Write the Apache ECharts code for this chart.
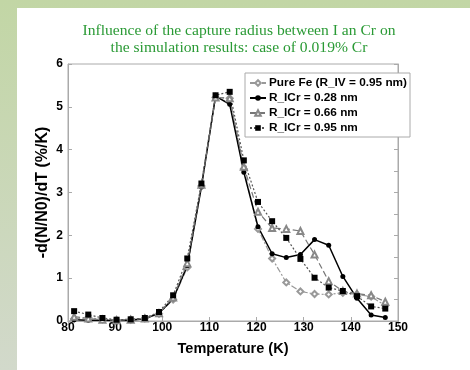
<!DOCTYPE html>
<html>
<head>
<meta charset="utf-8">
<script src="https://cdn.jsdelivr.net/npm/echarts@6/dist/echarts.min.js"></script>
<style>
    body { margin: 0; }
    .page {
        position: relative; width: 470px; height: 370px;
        background: linear-gradient(to bottom, #c2d6a5, #d2d9cb);
    }
    .panel { position: absolute; left: 17px; top: 8px; width: 453px; height: 362px; background: #fff; }
    #main { position: absolute; left: 0; top: 0; width: 470px; height: 370px; }
</style>
</head>
<body>
<div class="page">
    <div class="panel"></div>
    <div id="main"></div>
</div>
<script>
// temperatures (K)
const temps = [81.3, 84.3, 87.3, 90.3, 93.3, 96.3, 99.3, 102.3, 105.3, 108.3, 111.3, 114.3,
    117.3, 120.3, 123.3, 126.3, 129.3, 132.3, 135.3, 138.3, 141.3, 144.3, 147.3]

// -d(N/N0)/dT (%/K)
const pureFe = [0.05, 0.08, 0.04, 0.02, 0.03, 0.06, 0.17, 0.5, 1.25, 3.15, 5.22, 5.2,
    3.55, 2.15, 1.46, 0.9, 0.69, 0.63, 0.62, 0.66, 0.62, 0.57, 0.36]
const r028 = [0.03, 0.02, 0.02, 0.01, 0.02, 0.05, 0.18, 0.52, 1.29, 3.13, 5.25, 5.06,
    3.47, 2.2, 1.57, 1.48, 1.55, 1.9, 1.77, 1.04, 0.53, 0.14, 0.08]
const r066 = [0.1, 0.06, 0.03, 0.02, 0.03, 0.06, 0.18, 0.55, 1.35, 3.18, 5.22, 5.2,
    3.6, 2.55, 2.17, 2.15, 2.1, 1.55, 0.93, 0.7, 0.64, 0.6, 0.45]
const r095 = [0.23, 0.15, 0.07, 0.03, 0.04, 0.07, 0.21, 0.6, 1.46, 3.21, 5.27, 5.35,
    3.75, 2.78, 2.33, 1.94, 1.45, 1.01, 0.78, 0.7, 0.58, 0.34, 0.29]

const names = ['Pure Fe (R_IV = 0.95 nm)', 'R_ICr = 0.28 nm', 'R_ICr = 0.66 nm', 'R_ICr = 0.95 nm']

const pairs = (vals) => temps.map((t, i) => [t, vals[i]])

const myChart = echarts.init(document.getElementById('main'))

const tickFont = {fontFamily: 'Liberation Sans', fontWeight: 'bold', fontSize: 12, color: '#000'}
const gridLine = {show: true, lineStyle: {color: '#aaa', width: 1}}
const tick = {inside: true, length: 4, lineStyle: {color: '#aaa'}}

const option = {
    animation: false,
    title: {
        text: 'Influence of the capture radius between I an Cr on\nthe simulation results: case of 0.019% Cr',
        left: 234,
        textAlign: 'center',
        top: 17,
        textStyle: {
            fontFamily: 'Liberation Serif', fontWeight: 'normal', fontSize: 15.6,
            color: '#2a9a35', lineHeight: 17
        }
    },
    legend: {
        data: names,
        orient: 'vertical',
        left: 245,
        top: 73,
        padding: [4, 3, 3, 4],
        itemGap: 3,
        itemWidth: 16,
        itemHeight: 7,
        borderColor: '#aaa',
        borderWidth: 1,
        backgroundColor: '#fff',
        textStyle: {fontFamily: 'Liberation Sans', fontWeight: 'bold', fontSize: 11.8, color: '#000', padding: [0, 0, 0, -2]}
    },
    grid: {left: 68, right: 72, top: 64, bottom: 49, show: true, borderColor: '#aaa', borderWidth: 1},
    xAxis: [
        {
            type: 'value', min: 80, max: 150, interval: 10,
            name: 'Temperature (K)', nameLocation: 'middle', nameGap: 20,
            nameTextStyle: {fontFamily: 'Liberation Sans', fontWeight: 'bold', fontSize: 14.5, color: '#000'},
            axisLine: gridLine,
            axisTick: tick,
            axisLabel: Object.assign({margin: 1}, tickFont),
            splitLine: {show: false}
        },
        {
            type: 'value', min: 80, max: 150, interval: 10, position: 'top',
            axisLine: gridLine,
            axisTick: tick,
            axisLabel: {show: false},
            splitLine: {show: false}
        }
    ],
    yAxis: [
        {
            type: 'value', min: 0, max: 6, interval: 1,
            name: '-d(N/N0)/dT (%/K)', nameLocation: 'middle', nameGap: 17,
            nameMoveOverlap: false,
            nameTextStyle: {fontFamily: 'Liberation Sans', fontWeight: 'bold', fontSize: 16, color: '#000'},
            axisLine: gridLine,
            axisTick: tick,
            axisLabel: Object.assign({margin: 5}, tickFont),
            splitLine: {show: false}
        },
        {
            type: 'value', min: 0, max: 6, interval: 0.5, position: 'right',
            axisLine: gridLine,
            axisTick: tick,
            axisLabel: {show: false},
            splitLine: {show: false}
        }
    ],
    series: [
        {
            name: names[0], type: 'line', data: pairs(pureFe),
            symbol: 'emptyDiamond', symbolSize: 6,
            lineStyle: {color: '#999', width: 1.2, type: [6, 2, 2, 2]},
            itemStyle: {color: '#999', borderWidth: 1}
        },
        {
            name: names[1], type: 'line', data: pairs(r028),
            symbol: 'circle', symbolSize: 5,
            lineStyle: {color: '#000', width: 1.5},
            itemStyle: {color: '#000'}
        },
        {
            name: names[2], type: 'line', data: pairs(r066),
            symbol: 'emptyTriangle', symbolSize: 6,
            lineStyle: {color: '#777', width: 1.2, type: [6, 3]},
            itemStyle: {color: '#888', borderWidth: 1}
        },
        {
            name: names[3], type: 'line', data: pairs(r095),
            symbol: 'rect', symbolSize: 6,
            lineStyle: {color: '#555', width: 1.2, type: [2, 2]},
            itemStyle: {color: '#000'}
        }
    ]
}

option && myChart.setOption(option)
</script>
</body>
</html>
